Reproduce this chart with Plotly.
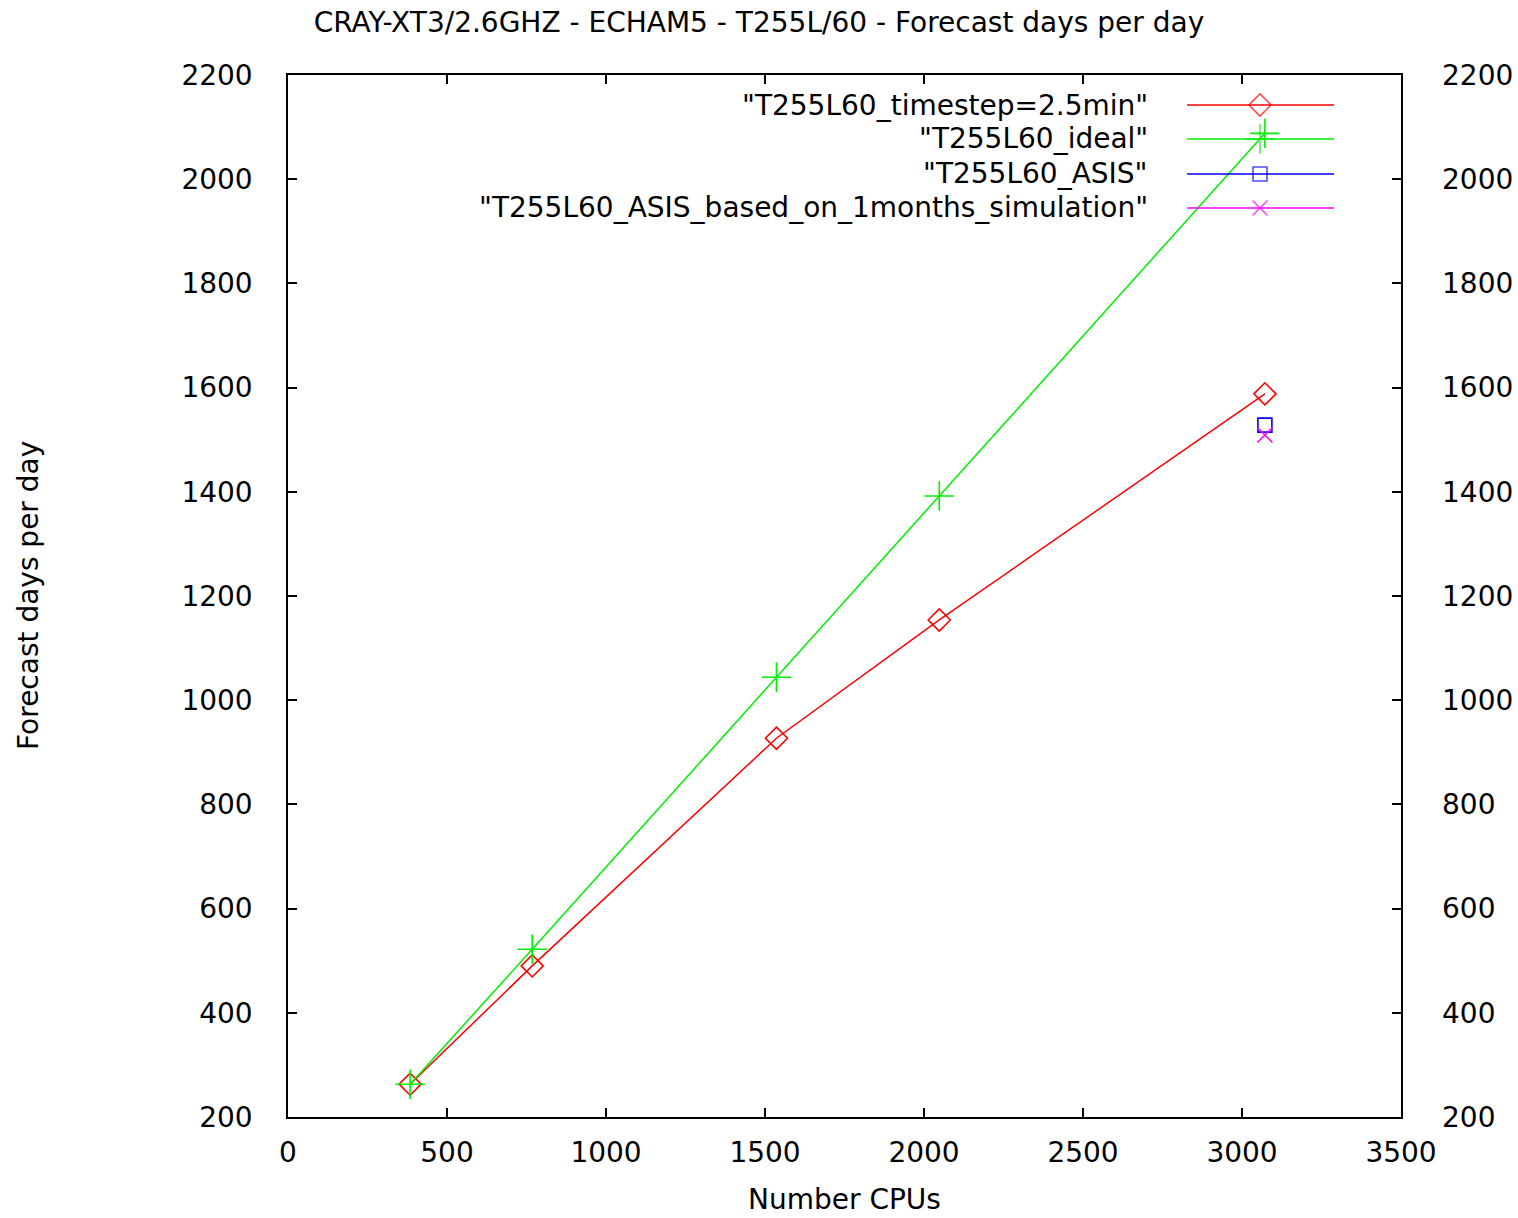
import plotly.graph_objects as go

# ---- data ----
cpus = [384, 768, 1536, 2048, 3072]
timestep_2_5min = [263, 490, 927, 1154, 1588]
ideal = [263, 522, 1044, 1392, 2088]
asis_cpus = [3072]
asis = [1528]
asis_1month = [1509]

series_names = [
    '"T255L60_timestep=2.5min"',
    '"T255L60_ideal"',
    '"T255L60_ASIS"',
    '"T255L60_ASIS_based_on_1months_simulation"',
]
colors = ["#ff0000", "#00ee00", "#0000ff", "#ff00ff"]
symbols = ["diamond-open", "cross-thin-open", "square-open", "x-thin-open"]
sizes = [17, 21, 14, 15]

x_ticks = [0, 500, 1000, 1500, 2000, 2500, 3000, 3500]
y_ticks = [200, 400, 600, 800, 1000, 1200, 1400, 1600, 1800, 2000, 2200]

FONT = "DejaVu Sans"
FS = 28

fig = go.Figure()

xs_list = [cpus, cpus, asis_cpus, asis_cpus]
ys_list = [timestep_2_5min, ideal, asis, asis_1month]
for i in range(4):
    fig.add_trace(go.Scatter(
        x=xs_list[i], y=ys_list[i], mode="lines+markers", name=series_names[i],
        line=dict(color=colors[i], width=1.5),
        marker=dict(symbol=symbols[i], size=sizes[i],
                    line=dict(color=colors[i], width=1.6)),
        showlegend=False,
    ))

# invisible trace to activate the right-side y axis
fig.add_trace(go.Scatter(x=cpus, y=ideal, yaxis="y2", mode="lines",
                         line=dict(color="rgba(0,0,0,0)"), hoverinfo="skip",
                         showlegend=False))

# gnuplot-style key (text right-aligned, sample line to its right)
key_rows = [0.9712, 0.9386, 0.905, 0.8724]
key_line_x = [0.8077, 0.8733, 0.9398]
key_text_x = 0.7745
for i in range(4):
    fig.add_trace(go.Scatter(
        x=key_line_x, y=[key_rows[i]] * 3, xaxis="x3", yaxis="y3",
        mode="lines+markers",
        line=dict(color=colors[i], width=1.5),
        marker=dict(symbol=symbols[i], size=[0, sizes[i], 0],
                    line=dict(color=colors[i], width=1.6)),
        hoverinfo="skip", showlegend=False,
    ))
    fig.add_annotation(x=key_text_x, y=key_rows[i], xref="paper", yref="paper",
                       text=series_names[i], showarrow=False, xanchor="right",
                       yanchor="middle", font=dict(family=FONT, size=FS, color="#000"))

axis_common = dict(showgrid=False, zeroline=False, showline=True, linecolor="black",
                   linewidth=1.5, ticks="inside", ticklen=9, tickcolor="black",
                   tickwidth=1.5, automargin=False,
                   tickfont=dict(family=FONT, size=FS, color="#000"))

fig.update_layout(
    width=1518, height=1218,
    margin=dict(l=288, r=117, t=75, b=101, autoexpand=False),
    paper_bgcolor="white", plot_bgcolor="white",
    title=dict(text="CRAY-XT3/2.6GHZ - ECHAM5 - T255L/60 - Forecast days per day",
               x=0.5, xanchor="center", y=0.982, yanchor="middle",
               font=dict(family=FONT, size=FS, color="#000")),
    xaxis=dict(range=[0, 3500], tickvals=x_ticks, mirror="ticks",
               ticklabelstandoff=10, **axis_common),
    yaxis=dict(range=[200, 2200], tickvals=y_ticks, mirror="ticks",
               ticklabelstandoff=28, **axis_common),
    yaxis2=dict(range=[200, 2200], tickvals=y_ticks, overlaying="y", side="right",
                showgrid=False, zeroline=False, showline=False, ticks="",
                ticklabelstandoff=40, automargin=False,
                tickfont=dict(family=FONT, size=FS, color="#000")),
    xaxis3=dict(range=[0, 1], overlaying="x", visible=False, anchor="y3", automargin=False),
    yaxis3=dict(range=[0, 1], overlaying="y", visible=False, anchor="x3", automargin=False),
    showlegend=False,
)

fig.add_annotation(x=0.5, y=-0.0787, xref="paper", yref="paper", text="Number CPUs",
                   showarrow=False, xanchor="center", yanchor="middle",
                   font=dict(family=FONT, size=FS, color="#000"))
fig.add_annotation(x=-0.2336, y=0.5, xref="paper", yref="paper", text="Forecast days per day",
                   showarrow=False, textangle=-90, xanchor="center", yanchor="middle",
                   font=dict(family=FONT, size=FS, color="#000"))

fig.write_html("out.html", config={"displayModeBar": False},
               post_script="document.body.style.margin='0';document.body.style.overflow='hidden';")
